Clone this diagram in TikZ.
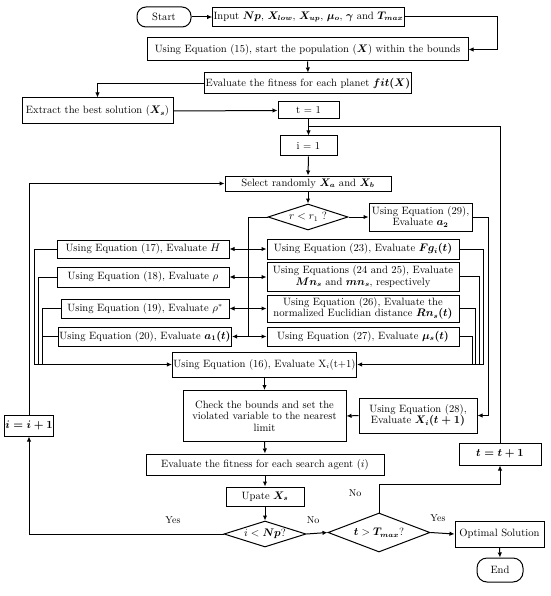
\documentclass[tikz,border=0pt]{standalone}
\usepackage{amsmath}
\usetikzlibrary{arrows.meta,shapes.geometric}
\begin{document}
\begin{tikzpicture}[x=1pt,y=-1pt,
  every node/.style={font=\fontsize{10.6}{11.6}\selectfont},
  box/.style={draw, line width=1pt, inner sep=1pt, align=center},
  term/.style={box, rounded corners=9pt},
  dia/.style={draw, line width=1pt, shape=diamond, inner sep=0pt, align=center},
  lbl/.style={font=\fontsize{10}{11}\selectfont},
  ln/.style={line width=1pt},
  arr/.style={line width=1pt, -{Latex[length=5pt,width=4.5pt]}}]
\useasboundingbox (0,0) rectangle (550,596);
% nodes
\node[term, minimum width=54pt, minimum height=20pt] (start) at (164,17) {Start};
\node[box, minimum width=171pt, minimum height=19pt] (input) at (308.5,17) {Input $\boldsymbol{Np}$, $\boldsymbol{X_{low}}$, $\boldsymbol{X_{up}}$, $\boldsymbol{\mu_o}$, $\boldsymbol{\gamma}$ and $\boldsymbol{T_{max}}$};
\node[box, minimum width=321pt, minimum height=23pt] (init) at (307.5,49.5) {Using Equation (15), start the population ($\boldsymbol{X}$) within the bounds};
\node[box, minimum width=202pt, minimum height=21pt] (fit) at (308,83.5) {Evaluate the fitness for each planet $\boldsymbol{fit(X)}$};
\node[box, minimum width=151pt, minimum height=26pt] (best) at (97.5,111) {Extract the best solution ($\boldsymbol{X_s}$)};
\node[box, minimum width=61pt, minimum height=17pt] (t1) at (308.5,110.5) {t = 1};
\node[box, minimum width=57pt, minimum height=20pt] (i1) at (308.5,146) {i = 1};
\node[box, minimum width=166pt, minimum height=15pt] (select) at (308,183.5) {Select randomly $\boldsymbol{X_a}$ and $\boldsymbol{X_b}$};
\node[dia, aspect=3.1, minimum width=80pt, minimum height=26pt] (dr) at (308,217) {$r < r_1$ ?};
\node[box, minimum width=103pt, minimum height=28pt, inner sep=0pt] (eq29) at (420.5,217) {Using Equation (29),\\ Evaluate $\boldsymbol{a_2}$};
\node[box, minimum width=172pt, minimum height=18pt] (eq17) at (143,249) {Using Equation (17), Evaluate $H$};
\node[box, minimum width=172pt, minimum height=20pt] (eq18) at (143,277) {Using Equation (18), Evaluate $\rho$};
\node[box, minimum width=168pt, minimum height=19pt] (eq19) at (145,308.5) {Using Equation (19), Evaluate $\rho^{*}$};
\node[box, minimum width=168pt, minimum height=19pt] (eq20) at (145,336.5) {Using Equation (20), Evaluate $\boldsymbol{a_1(t)}$};
\node[box, minimum width=192pt, minimum height=20pt] (eq23) at (363,249) {Using Equation (23), Evaluate $\boldsymbol{Fg_i(t)}$};
\node[box, minimum width=192pt, minimum height=29pt, inner sep=0pt] (eq24) at (363,276.5) {Using Equations (24 and 25), Evaluate\\ $\boldsymbol{Mn_s}$ and $\boldsymbol{mn_s}$, respectively};
\node[box, minimum width=192pt, minimum height=27pt, inner sep=0pt] (eq26) at (363,308.5) {Using Equation (26), Evaluate the\\ normalized Euclidian distance $\boldsymbol{Rn_s(t)}$};
\node[box, minimum width=192pt, minimum height=19pt] (eq27) at (363,336.5) {Using Equation (27), Evaluate $\boldsymbol{\mu_s(t)}$};
\node[box, minimum width=183pt, minimum height=25pt] (eq16) at (264.5,364.5) {Using Equation (16), Evaluate X$_i$(t+1)};
\node[box, minimum width=163pt, minimum height=51pt] (check) at (264.5,416) {Check the bounds and set the\\ violated variable to the nearest\\ limit};
\node[box, minimum width=118pt, minimum height=35pt] (eq28) at (418,415.5) {Using Equation (28),\\ Evaluate $\boldsymbol{X_i(t+1)}$};
\node[box, minimum width=238pt, minimum height=21pt] (evalag) at (265,464.5) {Evaluate the fitness for each search agent ($i$)};
\node[box, minimum width=78pt, minimum height=19pt] (upd) at (265,496.5) {Upate $\boldsymbol{X_s}$};
\node[dia, aspect=3.15, minimum width=82pt, minimum height=26pt] (dnp) at (265,534) {$i < \boldsymbol{Np}$?};
\node[dia, aspect=2.6, minimum width=102pt, minimum height=39pt] (dtm) at (379,532.5) {$\boldsymbol{t} > \boldsymbol{T_{max}}$?};
\node[box, minimum width=89pt, minimum height=26pt] (opt) at (499.5,534) {Optimal Solution};
\node[term, minimum width=46pt, minimum height=24pt, rounded corners=10pt] (endn) at (500,570) {End};
\node[box, minimum width=82pt, minimum height=22pt] (tt) at (500,454) {$\boldsymbol{t = t + 1}$};
\node[box, minimum width=44pt, minimum height=21pt] (ii) at (29,425.5) {$\boldsymbol{i = i + 1}$};
% coordinates
\coordinate (j1) at (308.5,127);
\coordinate (bt) at (248,217);
\coordinate (bb) at (248,336.5);
\coordinate (tj) at (379,484);
% main flow
\draw[arr] (start.east) -- (input.west);
\draw[arr] (input.east) -- ++(93,0) |- (init.east);
\draw[arr] (init.south) -- (fit.north);
\draw[arr] (fit.west) -| (best.north);
\draw[arr] (best.east) -- (t1.west);
\draw[arr] (t1.south) -- (i1.north);
\draw[ln] (tt.north) |- (j1);
\draw[arr] (i1.south) -- (select.north);
\draw[arr] (select.south) -- (dr.north);
\draw[arr] (dr.east) -- (eq29.west);
\draw[ln] (dr.west) -- (bt) -- (bb);
\foreach \l/\r in {eq17/eq23, eq18/eq24, eq19/eq26, eq20/eq27}{
  \draw[arr] (bt |- \l.east) -- (\l.east);
  \draw[arr] (bt |- \l.east) -- (bt |- \l.east -| \r.west);
}
% left feedback
\draw[ln] (eq17.west) -- (34,249) -- (34,364.5);
\draw[ln] (eq18.west) -- (38,277) -- (38,364.5);
\draw[ln] (eq19.west) -- (42,308.5) -- (42,364.5);
\draw[ln] (eq20.west) -- (42,336.5);
\draw[arr] (34,364.5) -- (eq16.west);
% right feedback
\draw[ln] (eq23.east) -- (483,249) -- (483,364.5);
\draw[ln] (eq24.east) -- (479,276.5) -- (479,364.5);
\draw[ln] (eq26.east) -- (475,308.5) -- (475,364.5);
\draw[ln] (eq27.east) -- (472,336.5) -- (472,364.5);
\draw[arr] (483,364.5) -- (eq16.east);
\draw[arr] (eq29.east) -- (488,217) |- (eq28.east);
\draw[arr] (eq28.west) -- (check.east);
\draw[arr] (eq16.south) -- (check.north);
\draw[arr] (check.south) -- (evalag.north);
\draw[arr] (evalag.south) -- (upd.north);
\draw[arr] (upd.south) -- (dnp.north);
\draw[arr] (dnp.east) -- (dtm.west);
\draw[arr] (dnp.west) -| (ii.south);
\draw[arr] (ii.north) |- (select.west);
\draw[arr] (dtm.north) -- (tj) -| (tt.south);
\draw[arr] (dtm.east) -- (opt.west);
\draw[arr] (opt.south) -- (endn.north);
% labels
\node[lbl] (l1) at (355,493) {No};
\node[lbl] (l2) at (173,520) {Yes};
\node[lbl] (l3) at (313,520) {No};
\node[lbl] (l4) at (438,518) {Yes};
\end{tikzpicture}
\end{document}
